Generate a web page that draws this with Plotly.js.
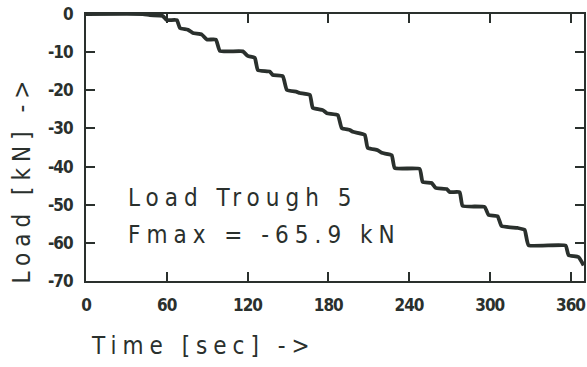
<!DOCTYPE html>
<html>
<head>
<meta charset="utf-8">
<script src="https://cdn.plot.ly/plotly-3.0.1.min.js"></script>
<style>
  html, body { margin: 0; padding: 0; background: #fff; }
  #chart { width: 587px; height: 367px; }
  .annotation-text { letter-spacing: 6px; }
  .xtick text, .ytick text { letter-spacing: -1px; }
</style>
</head>
<body>
<div id="chart"></div>
<script>
// Time axis values (sec) and load values (kN)
const timeSec = [0, 42.3, 47.5, 57, 60, 67.5, 69.8, 75.7, 79.4, 86.1, 89.8, 96.5, 99.5, 116.5,
  120.2, 125.4, 127.7, 136.6, 138.8, 146.2, 149.2, 156.6, 158.8, 166.3, 168.5, 175.9, 178.9,
  187.1, 190.0, 196.0, 198.2, 207.1, 209.3, 216.7, 219.7, 227.1, 229.4, 247.9, 250.1, 256.8,
  259.8, 268.0, 270.2, 277.6, 279.8, 296.2, 299.1, 305.8, 308.8, 320.7, 325.9, 328.8, 356.3,
  358.5, 365.9, 369.7];
const loadKN = [0, 0, -0.3, -0.5, -1.6, -1.6, -3.7, -4.1, -5.0, -5.4, -6.7, -6.7, -9.7, -9.8,
  -11.0, -11.5, -14.7, -15.1, -16.0, -16.3, -19.9, -20.4, -20.7, -21.2, -24.6, -25.2, -26.0,
  -26.5, -29.9, -30.4, -30.9, -31.7, -35.1, -35.7, -36.4, -37.0, -40.4, -40.6, -44.0, -44.3,
  -45.6, -45.9, -46.7, -46.7, -50.3, -50.6, -52.7, -53.0, -55.6, -56.1, -56.6, -60.6, -60.7,
  -63.2, -63.7, -65.9];

const xTickVals = [0, 60, 120, 180, 240, 300, 360];
const xTickText = ['0', '60', '120', '180', '240', '300', '360'];
const yTickVals = [0, -10, -20, -30, -40, -50, -60, -70];
const yTickText = ['0', '-10', '-20', '-30', '-40', '-50', '-60', '-70'];

const xTitle = 'Time [sec] ->';
const yTitle = 'Load [kN] ->';
const noteLine1 = 'Load Trough 5';
const noteLine2 = 'Fmax = -65.9 kN';

const ink = '#2a302d';
const tickFont = { family: 'DejaVu Sans Condensed, sans-serif', size: 17, color: ink, weight: 'bold' };
const textFont = { family: 'DejaVu Sans Condensed, sans-serif', size: 24, color: ink };

const axisCommon = {
  showgrid: false, zeroline: false,
  showline: true, linecolor: ink, linewidth: 2,
  ticks: 'inside', ticklen: 9, tickwidth: 2, tickcolor: ink,
  mirror: 'ticks',
  tickfont: tickFont,
  ticklabelstandoff: 8
};

const trace = {
  x: timeSec, y: loadKN, type: 'scatter', mode: 'lines',
  line: { color: ink, width: 3.8, shape: 'spline', smoothing: 0.4 },
  hoverinfo: 'skip'
};

const layout = {
  width: 587, height: 367,
  margin: { l: 86, r: 3, t: 14, b: 86 },
  paper_bgcolor: '#ffffff', plot_bgcolor: '#ffffff',
  showlegend: false,
  xaxis: Object.assign({}, axisCommon, {
    range: [0, 370], tickmode: 'array', tickvals: xTickVals, ticktext: xTickText
  }),
  yaxis: Object.assign({}, axisCommon, {
    range: [-70, 0], tickmode: 'array', tickvals: yTickVals, ticktext: yTickText
  }),
  annotations: [
    { text: noteLine1, x: 29.7, y: -48.2, xref: 'x', yref: 'y', xanchor: 'left', yanchor: 'middle', showarrow: false, font: textFont },
    { text: noteLine2, x: 29.7, y: -57.9, xref: 'x', yref: 'y', xanchor: 'left', yanchor: 'middle', showarrow: false, font: textFont },
    { text: xTitle, x: 0.236, y: -0.243, xref: 'paper', yref: 'paper', xanchor: 'center', yanchor: 'middle', showarrow: false, font: textFont },
    { text: yTitle, x: -0.1285, y: 0.38, xref: 'paper', yref: 'paper', xanchor: 'center', yanchor: 'middle', textangle: -90, showarrow: false, font: textFont }
  ]
};

Plotly.newPlot('chart', [trace], layout, { displayModeBar: false, staticPlot: true });
</script>
</body>
</html>
